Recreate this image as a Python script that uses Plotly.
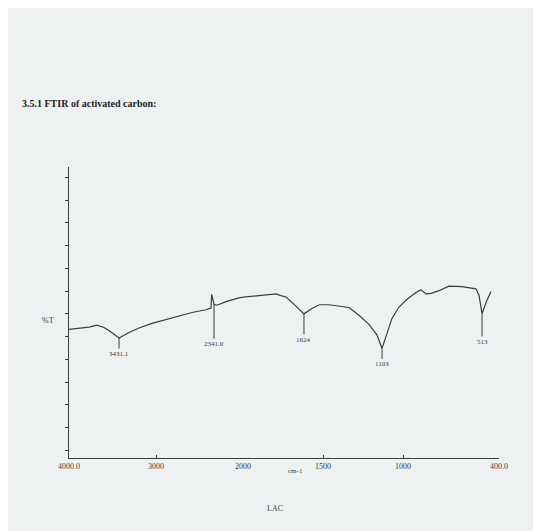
import plotly.graph_objects as go

# FTIR spectrum of activated carbon (wavenumber cm-1, %T)
wavenumber = [4000, 3885, 3770, 3678, 3598, 3517, 3425, 3310, 3195, 3046, 2885, 2736,
              2586, 2425, 2368, 2360, 2333, 2299, 2195, 2046, 1944, 1856, 1794, 1763,
              1731, 1669, 1619, 1569, 1525, 1463, 1338, 1275, 1213, 1163, 1131, 1100,
              1069, 1025, 975, 919, 888, 856, 825, 775, 713, 631, 544, 525, 506, 481, 450]
transmittance = [28.3, 28.5, 28.8, 29.2, 28.7, 27.7, 26.4, 27.6, 28.6, 29.6, 30.4, 31.3,
                 32.0, 32.6, 33.0, 36.0, 33.8, 33.6, 34.4, 35.2, 35.5, 35.9, 36.1, 35.7,
                 35.4, 33.4, 31.7, 32.9, 33.7, 33.7, 33.1, 31.4, 29.4, 27.1, 24.1, 27.4,
                 30.7, 33.2, 34.9, 36.4, 37.0, 36.1, 36.2, 36.8, 37.8, 37.7, 37.2, 35.8,
                 31.7, 34.2, 36.6]

peak_wn = [3425, 2333, 1619, 1131, 506]
peak_labels = ["3431.1", "2341.0", "1624", "1103", "513"]
peak_drop = [16, 40, 26, 16, 28]

tick_hi_vals = [4000, 3000, 2000]
tick_hi_text = ["4000.0", "3000", "2000"]
tick_lo_vals = [1500, 1000, 400]
tick_lo_text = ["1500", "1000", "400.0"]

BG = "#eef1f1"
INK = "#3c3c3c"
FONT = "Liberation Serif"

W, H = 533, 523
L, T, PW, PH = 61, 159, 430, 291
fig = go.Figure()
for xa in ["x", "x2"]:
    fig.add_trace(go.Scatter(x=wavenumber, y=transmittance, mode="lines",
                             line=dict(color=INK, width=1.2), xaxis=xa, yaxis="y",
                             showlegend=False, hoverinfo="skip"))

split = 174 / 430
axis_common = dict(showline=True, linecolor=INK, linewidth=1.2, showgrid=False,
                   zeroline=False, ticks="inside", ticklen=3, tickcolor=INK,
                   tickfont=dict(family=FONT, size=8, color=INK))
fig.update_layout(
    width=W, height=H,
    paper_bgcolor=BG, plot_bgcolor=BG,
    margin=dict(l=L, r=W - L - PW, t=T, b=H - T - PH),
    font=dict(family=FONT, color=INK),
    title=dict(text="<b>3.5.1 FTIR of activated carbon:</b>", x=14 / W, xanchor="left",
               xref="container", y=1 - 95 / H, yref="container", yanchor="middle",
               font=dict(family=FONT, size=10, color="#222")),
    xaxis=dict(domain=[0, split], range=[4000, 2000], tickvals=tick_hi_vals,
               ticktext=tick_hi_text, anchor="y", **axis_common),
    xaxis2=dict(domain=[split, 1], range=[2000, 400], tickvals=tick_lo_vals,
                ticktext=tick_lo_text, anchor="y", **axis_common),
    yaxis=dict(range=[0, 64], tick0=1.7, dtick=5, showticklabels=False,
               showline=True, linecolor=INK, linewidth=1.2, showgrid=False,
               zeroline=False, ticks="outside", ticklen=3, tickcolor=INK),
)

annotations = []
for wn, lab, drop in zip(peak_wn, peak_labels, peak_drop):
    i = wavenumber.index(wn)
    annotations.append(dict(x=wn, y=transmittance[i], xref="x" if wn >= 2000 else "x2",
                            yref="y", text=lab, showarrow=True, arrowhead=0,
                            arrowwidth=1, arrowcolor=INK, ax=0, ay=drop,
                            font=dict(family=FONT, size=7, color=INK)))


def paper_note(text, fx, fy, size):
    return dict(text=text, x=(fx - L) / PW, y=(T + PH - fy) / PH, xref="paper",
                yref="paper", showarrow=False, font=dict(family=FONT, size=size, color=INK))


annotations += [
    paper_note("%T", 32, 312, 8),
    paper_note("cm-1", 287, 469, 7),
    paper_note("LAC", 267, 507, 8),
]
fig.update_layout(annotations=annotations)

fig.write_html("out.html")
